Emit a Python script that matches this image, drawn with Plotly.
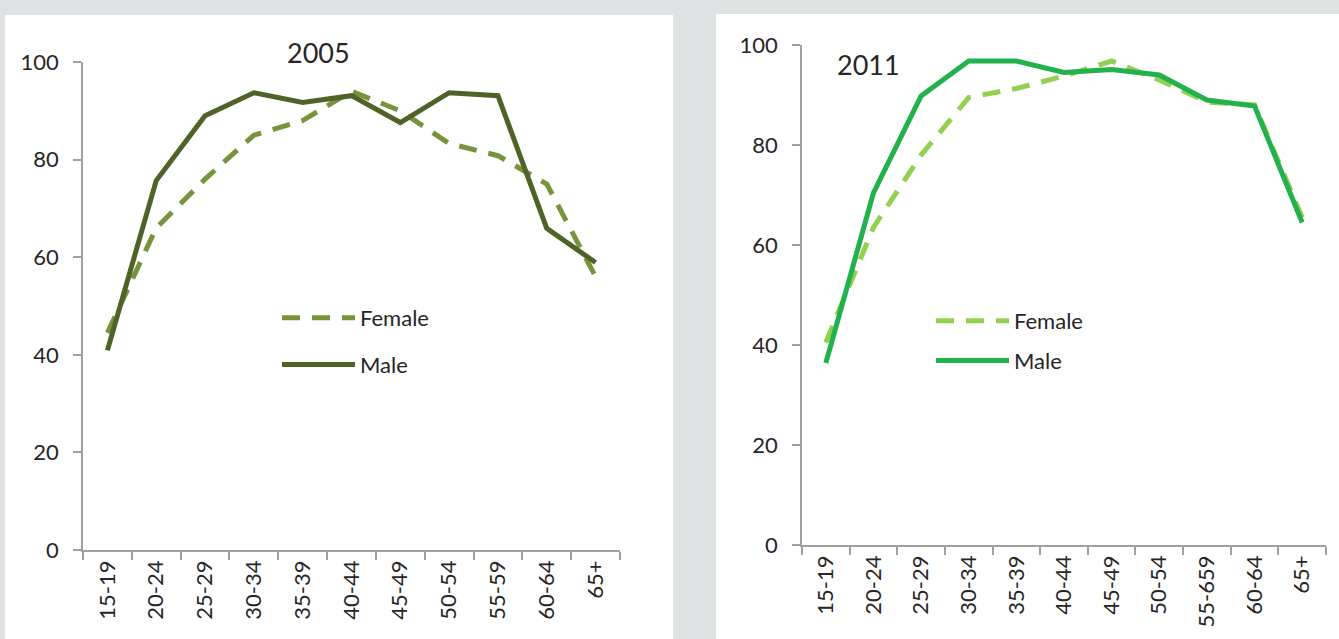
import plotly.graph_objects as go

# ---- data ----
ages_2005 = ["15-19", "20-24", "25-29", "30-34", "35-39", "40-44", "45-49", "50-54", "55-59", "60-64", "65+"]
female_2005 = [44.5, 66.0, 76.0, 85.0, 88.0, 94.0, 90.0, 83.3, 80.8, 75.0, 56.0]
male_2005 = [40.9, 75.7, 89.0, 93.7, 91.7, 93.1, 87.6, 93.7, 93.1, 65.9, 58.9]

ages_2011 = ["15-19", "20-24", "25-29", "30-34", "35-39", "40-44", "45-49", "50-54", "55-659", "60-64", "65+"]
female_2011 = [40.5, 63.5, 78.0, 89.5, 91.3, 93.8, 96.8, 93.0, 88.6, 88.0, 65.5]
male_2011 = [36.4, 70.4, 89.8, 96.8, 96.8, 94.5, 95.1, 94.0, 89.0, 87.8, 64.5]

y_ticks = [0, 20, 40, 60, 80, 100]

W, H = 1339, 639
FONT = "Lato"
TXT = "#262626"
AX = "#a0a0a0"

def px(x):
    return x / W

def py(y):
    return 1 - y / H

fig = go.Figure()

fig.add_trace(go.Scatter(x=ages_2005, y=female_2005, mode="lines", name="Female",
                         line=dict(color="#77933c", width=5, dash="18px,12px"),
                         xaxis="x", yaxis="y", legend="legend", legendgroup="f1"))
fig.add_trace(go.Scatter(x=ages_2005, y=male_2005, mode="lines", name="Male",
                         line=dict(color="#4f6228", width=5),
                         xaxis="x", yaxis="y", legend="legend", legendgroup="m1"))
fig.add_trace(go.Scatter(x=ages_2011, y=female_2011, mode="lines", name="Female",
                         line=dict(color="#92d050", width=5, dash="18px,12px"),
                         xaxis="x2", yaxis="y2", legend="legend2", legendgroup="f2"))
fig.add_trace(go.Scatter(x=ages_2011, y=male_2011, mode="lines", name="Male",
                         line=dict(color="#22b14c", width=5),
                         xaxis="x2", yaxis="y2", legend="legend2", legendgroup="m2"))

xcommon = dict(type="category", range=[-0.5, 10.5], showline=True, linecolor=AX, linewidth=1.5,
               ticks="outside", tickson="boundaries", ticklen=8, tickcolor=AX, tickwidth=1.5,
               tickangle=-90, showgrid=False, zeroline=False, automargin=False,
               tickfont=dict(family=FONT, size=22, color=TXT), fixedrange=True)
ycommon = dict(range=[0, 100], tickvals=y_ticks, showline=True, linecolor=AX, linewidth=1.5,
               ticks="outside", ticklen=8, tickcolor=AX, tickwidth=1.5, showgrid=False,
               zeroline=False, ticklabelstandoff=10, automargin=False,
               tickfont=dict(family=FONT, size=22, color=TXT), fixedrange=True)

legcommon = dict(font=dict(family=FONT, size=22, color=TXT), bgcolor="rgba(0,0,0,0)",
                 itemwidth=73, traceorder="grouped", xanchor="left", yanchor="top",
                 itemclick=False, itemdoubleclick=False)

fig.update_layout(
    width=W, height=H,
    margin=dict(l=0, r=0, t=0, b=0, autoexpand=False),
    paper_bgcolor="#dee2e3",
    plot_bgcolor="white",
    showlegend=True,
    xaxis=dict(domain=[px(83), px(620)], anchor="y", **xcommon),
    yaxis=dict(domain=[py(550), py(62)], anchor="x", **ycommon),
    xaxis2=dict(domain=[px(802), px(1326)], anchor="y2", **xcommon),
    yaxis2=dict(domain=[py(545), py(45)], anchor="x2", **ycommon),
    legend=dict(x=px(277), y=py(297), tracegroupgap=15, **legcommon),
    legend2=dict(x=px(931), y=py(300), tracegroupgap=8, **legcommon),
    shapes=[
        dict(type="rect", xref="paper", yref="paper", x0=px(5), x1=px(673), y0=0, y1=py(15),
             fillcolor="white", line=dict(width=0), layer="below"),
        dict(type="rect", xref="paper", yref="paper", x0=px(716), x1=1, y0=0, y1=py(14),
             fillcolor="white", line=dict(width=0), layer="below"),
    ],
    annotations=[
        dict(text="2005", xref="paper", yref="paper", x=px(318), y=py(53), showarrow=False,
             xanchor="center", yanchor="middle", font=dict(family=FONT, size=27, color=TXT)),
        dict(text="2011", xref="paper", yref="paper", x=px(868), y=py(64), showarrow=False,
             xanchor="center", yanchor="middle", font=dict(family=FONT, size=27, color=TXT)),
    ],
)

fig.write_html("out.html", config={"displayModeBar": False},
               post_script="document.body.style.margin='0';document.body.style.background='#dee2e3';")
